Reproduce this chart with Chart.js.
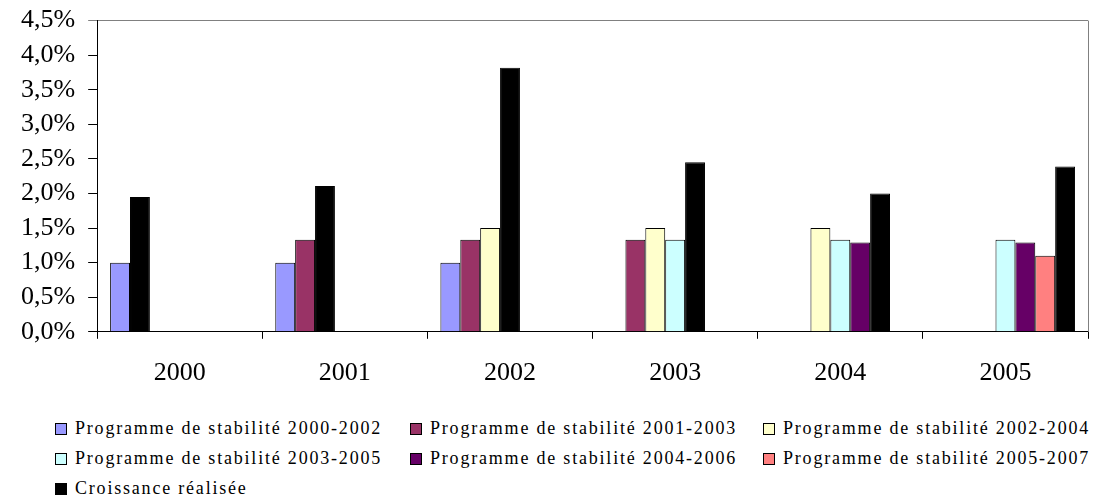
<!DOCTYPE html>
<html>
<head>
<meta charset="utf-8">
<script src="https://cdn.jsdelivr.net/npm/chart.js@4.4.1/dist/chart.umd.min.js"></script>
<style>
	body { margin: 0; background: #fff; overflow: hidden; }
	#wrap { position: relative; width: 1094px; height: 495px; overflow: hidden; }
	#chartBox { position: absolute; left: 0; top: -8px; width: 1094px; height: 416px; }
	#legend { position: absolute; left: 55px; top: 416px; font-family: 'Liberation Serif', serif; font-size: 18px; letter-spacing: 1.8px; color: #000; }
	#legend .item { position: absolute; white-space: nowrap; height: 24px; line-height: 24px; }
	#legend .box { display: inline-block; width: 10px; height: 10px; border: 1px solid #000; margin-right: 8px; vertical-align: -1px; }
</style>
</head>
<body>
<div id="wrap">
	<div id="chartBox"><canvas id="growthChart"></canvas></div>
	<div id="legend"></div>
</div>
<script>
// Categories
const years = ['2000', '2001', '2002', '2003', '2004', '2005'];

// Stability programme forecasts (%)
const ps2000 = [1.0, 1.0, 1.0, null, null, null];
const ps2001 = [null, 1.33, 1.33, 1.33, null, null];
const ps2002 = [null, null, 1.5, 1.5, 1.5, null];
const ps2003 = [null, null, null, 1.33, 1.33, 1.33];
const ps2004 = [null, null, null, null, 1.29, 1.29];
const ps2005 = [null, null, null, null, null, 1.1];
// Actual growth (%)
const croissance = [1.95, 2.11, 3.82, 2.45, 2.0, 2.39];

const seriesNames = [
	'Programme de stabilité 2000-2002',
	'Programme de stabilité 2001-2003',
	'Programme de stabilité 2002-2004',
	'Programme de stabilité 2003-2005',
	'Programme de stabilité 2004-2006',
	'Programme de stabilité 2005-2007',
	'Croissance réalisée'
];
const seriesColors = ['#9999ff', '#993366', '#ffffcc', '#ccffff', '#660066', '#ff8080', '#000000'];

const yTicks = [0, 0.5, 1, 1.5, 2, 2.5, 3, 3.5, 4, 4.5];

// Excel layout: 7 slots per year, actual growth sits right after the last forecast
const programmes = [ps2000, ps2001, ps2002, ps2003, ps2004, ps2005];
const blackSlot = years.map((y, j) => {
	let last = -1;
	programmes.forEach((p, i) => { if (p[j] !== null) last = i; });
	return last + 1;
});

const datasets = [];
for (let k = 0; k < 7; k++) {
	const data = [];
	const colors = [];
	years.forEach((y, j) => {
		const p = programmes[k];
		if (p && p[j] !== null) {
			data.push(p[j]);
			colors.push(seriesColors[k]);
		} else if (k === blackSlot[j]) {
			data.push(croissance[j]);
			colors.push(seriesColors[6]);
		} else {
			data.push(null);
			colors.push(seriesColors[k]);
		}
	});
	datasets.push({
		label: 'slot ' + k,
		data: data,
		backgroundColor: colors,
		borderColor: '#000',
		borderWidth: 1,
		categoryPercentage: 0.843,
		barPercentage: 1.0
	});
}

// Gray border on the right of the plot area
const rightBorder = {
	id: 'rightBorder',
	afterDraw(chart) {
		const a = chart.chartArea;
		const ctx = chart.ctx;
		ctx.save();
		ctx.strokeStyle = '#808080';
		ctx.lineWidth = 1;
		ctx.beginPath();
		ctx.moveTo(a.right + 0.5, a.top);
		ctx.lineTo(a.right + 0.5, a.bottom);
		ctx.stroke();
		ctx.restore();
	}
};

document.addEventListener('DOMContentLoaded', function() {
	const ctx = document.getElementById('growthChart').getContext('2d');
	window.myChart = new Chart(ctx, {
		type: 'bar',
		data: { labels: years, datasets: datasets },
		plugins: [rightBorder],
		options: {
			responsive: true,
			maintainAspectRatio: false,
			animation: false,
			layout: { padding: { left: 8, right: 6, top: 4, bottom: 0 } },
			plugins: {
				legend: { display: false },
				tooltip: { enabled: false }
			},
			scales: {
				x: {
					border: { color: '#000', width: 1 },
					grid: { offset: true, drawOnChartArea: false, tickLength: 7, tickColor: '#000' },
					ticks: { color: '#000', padding: 19, font: { family: 'Liberation Serif', size: 26 } }
				},
				y: {
					min: 0,
					max: 4.5,
					afterBuildTicks: axis => { axis.ticks = yTicks.map(v => ({ value: v })); },
					border: { color: '#000', width: 1 },
					grid: {
						drawOnChartArea: true,
						tickLength: 9,
						color: c => (c.tick && c.tick.value === 4.5) ? '#808080' : 'rgba(0,0,0,0)',
						tickColor: c => (c.tick && c.tick.value === 4.5) ? '#808080' : '#000'
					},
					ticks: {
						color: '#000',
						padding: 13,
						autoSkip: false,
						font: { family: 'Liberation Serif', size: 26 },
						callback: v => v.toFixed(1).replace('.', ',') + '%'
					}
				}
			}
		}
	});

	// Legend in three columns as in the original
	const legend = document.getElementById('legend');
	const colX = [0, 355, 708];
	seriesNames.forEach((name, i) => {
		const item = document.createElement('div');
		item.className = 'item';
		item.style.left = colX[i % 3] + 'px';
		item.style.top = (Math.floor(i / 3) * 30) + 'px';
		item.innerHTML = '<span class="box" style="background:' + seriesColors[i] + '"></span>' + name;
		legend.appendChild(item);
	});
});
</script>
</body>
</html>
